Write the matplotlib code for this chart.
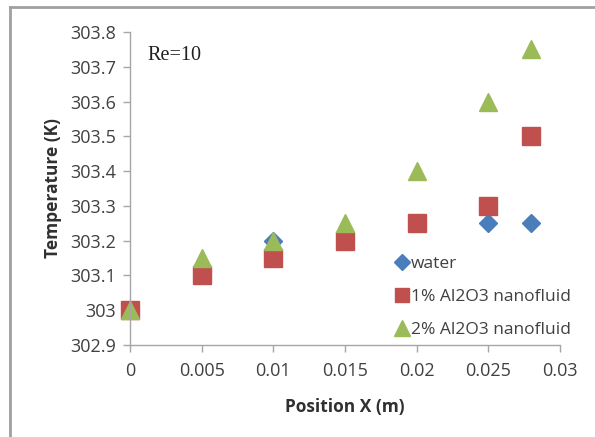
import numpy as np
import matplotlib.pyplot as plt
from matplotlib.lines import Line2D

# temperature along the channel, Re = 10
position = [0, 0.005, 0.01, 0.015, 0.02, 0.025, 0.028]
water = [303.0, 303.12, 303.2, 303.22, 303.25, 303.25, 303.25]
al2o3_1 = [303.0, 303.1, 303.15, 303.2, 303.25, 303.3, 303.5]
al2o3_2 = [303.0, 303.15, 303.2, 303.25, 303.4, 303.6, 303.75]

x_ticks = [0, 0.005, 0.01, 0.015, 0.02, 0.025, 0.03]
x_labels = ['0', '0.005', '0.01', '0.015', '0.02', '0.025', '0.03']
y_ticks = [302.9, 303, 303.1, 303.2, 303.3, 303.4, 303.5, 303.6, 303.7, 303.8]
y_labels = ['302.9', '303', '303.1', '303.2', '303.3', '303.4', '303.5', '303.6', '303.7', '303.8']

plt.rcParams['font.family'] = ['Open Sans', 'DejaVu Sans']

fig = plt.figure(figsize=(5.95, 4.37), dpi=100)
ax = fig.add_axes([0.2185, 0.2105, 0.7225, 0.7163])

# chart area frame (only top and left edges fall inside the image)
fig.add_artist(Line2D([10 / 595, 1], [1 - 7 / 437] * 2, color='#a0a0a0', lw=2))
fig.add_artist(Line2D([10 / 595] * 2, [0, 1 - 7 / 437], color='#a0a0a0', lw=2))

ax.plot(position, water, linestyle='none', marker='D', markersize=9,
        color='#4a7ebb', label='water')
ax.plot(position, al2o3_1, linestyle='none', marker='s', markersize=12.5,
        color='#c0504d', label='1% Al2O3 nanofluid')
ax.plot(position, al2o3_2, linestyle='none', marker='^', markersize=13,
        color='#9bbb59', label='2% Al2O3 nanofluid')

ax.set_xlim(0, 0.03)
ax.set_ylim(302.9, 303.8)
ax.set_xticks(x_ticks)
ax.set_xticklabels(x_labels)
ax.set_yticks(y_ticks)
ax.set_yticklabels(y_labels)
for m in ax.get_lines():
    m.set_clip_on(False)

for side in ['top', 'right']:
    ax.spines[side].set_visible(False)
for side in ['left', 'bottom']:
    ax.spines[side].set_color('#a6a6a6')
    ax.spines[side].set_linewidth(1)
ax.tick_params(axis='both', colors='#a6a6a6', labelcolor='#404040',
               labelsize=13, length=5, width=1)
ax.tick_params(axis='x', pad=7)
ax.tick_params(axis='y', pad=5)

ax.set_xlabel('Position X (m)', fontsize=12.5, fontweight='bold', labelpad=13,
              color='#303030')
ax.set_ylabel('Temperature (K)', fontsize=12.5, fontweight='bold', labelpad=6,
              color='#303030')

ax.text(0.04, 0.925, 'Re=10', transform=ax.transAxes, fontsize=14.5,
        family='Liberation Serif', color='#202020', va='center')

leg = ax.legend(loc='center left', bbox_to_anchor=(385 / 595, 1 - 297 / 437),
                bbox_transform=fig.transFigure, frameon=False, fontsize=12.5,
                handletextpad=0.0, handlelength=1.0, labelspacing=0.95,
                borderpad=0, markerscale=0.85)
for t in leg.get_texts():
    t.set_color('#404040')

plt.savefig('out.png', dpi=100)
